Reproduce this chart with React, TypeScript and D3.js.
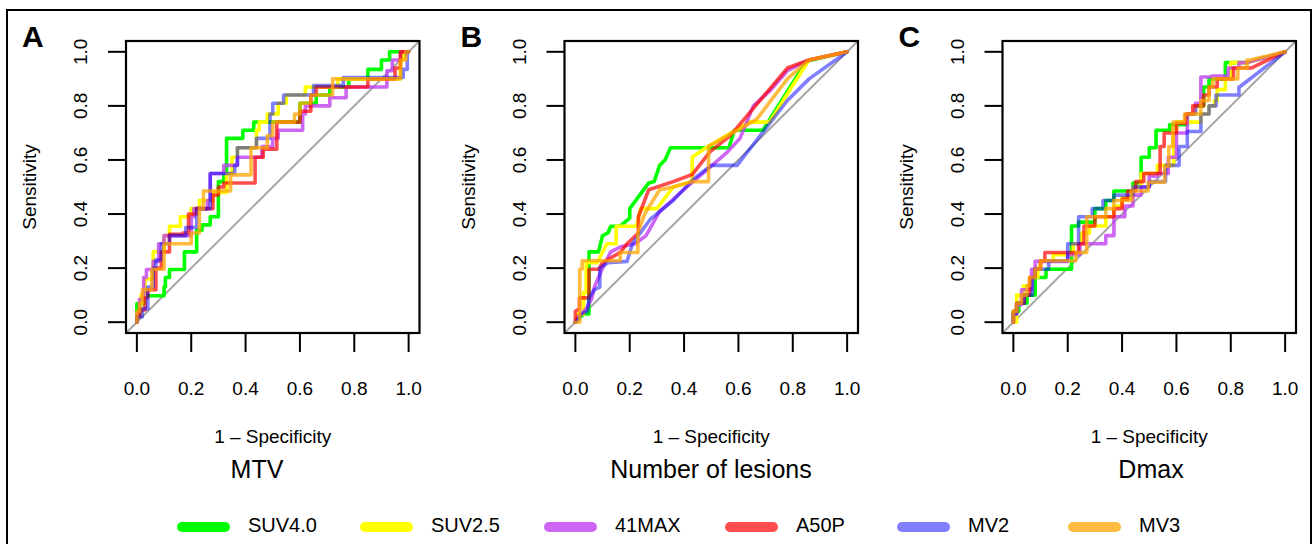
import * as d3 from "d3";

// series
const methods = ["SUV4.0", "SUV2.5", "41MAX", "A50P", "MV2", "MV3"];
const colors = ["#00ff00", "#ffff00", "#c040f0", "#ff0000", "#0000ff", "#ffa500"];
const alphas = [1, 1, 0.8, 0.7, 0.5, 0.75];

const panelLetters = ["A", "B", "C"];
const panelTitles = ["MTV", "Number of lesions", "Dmax"];
const ticks = [0, 0.2, 0.4, 0.6, 0.8, 1.0];

// MTV (steps: vertical at previous x, then across to this x)
const mtvSuv40 = [[0,0],[0.025,0.068],[0.1,0.098],[0.105,0.13],[0.12,0.165],[0.175,0.195],[0.22,0.26],[0.24,0.34],[0.27,0.36],[0.3,0.39],[0.32,0.52],[0.33,0.55],[0.39,0.68],[0.43,0.71],[0.49,0.74],[0.6,0.74],[0.66,0.81],[0.71,0.84],[0.78,0.87],[0.85,0.9],[0.9,0.935],[0.93,0.97],[1,1]];
const mtvSuv25 = [[0,0],[0.015,0.03],[0.03,0.1],[0.06,0.16],[0.1,0.26],[0.12,0.32],[0.16,0.355],[0.2,0.39],[0.23,0.42],[0.28,0.45],[0.33,0.48],[0.35,0.55],[0.37,0.61],[0.44,0.645],[0.45,0.71],[0.48,0.74],[0.52,0.77],[0.55,0.81],[0.62,0.84],[0.74,0.87],[0.97,0.9],[0.98,0.97],[1,1]];
const mtv41max = [[0,0],[0.01,0.03],[0.025,0.085],[0.035,0.165],[0.06,0.195],[0.08,0.225],[0.1,0.29],[0.2,0.32],[0.21,0.39],[0.26,0.42],[0.27,0.45],[0.32,0.55],[0.37,0.58],[0.46,0.61],[0.5,0.65],[0.52,0.68],[0.61,0.71],[0.62,0.77],[0.71,0.8],[0.77,0.83],[0.92,0.87],[0.94,0.93],[0.97,0.97],[1,1]];
const mtvA50p = [[0,0],[0.01,0.02],[0.03,0.045],[0.04,0.09],[0.07,0.12],[0.09,0.2],[0.12,0.26],[0.17,0.325],[0.19,0.33],[0.22,0.4],[0.28,0.42],[0.3,0.47],[0.32,0.5],[0.435,0.515],[0.465,0.61],[0.515,0.64],[0.6,0.74],[0.64,0.78],[0.66,0.84],[0.76,0.87],[0.85,0.87],[0.95,0.9],[0.97,0.94],[1,1]];
const mtvMv2 = [[0,0],[0.02,0.02],[0.04,0.05],[0.06,0.13],[0.07,0.2],[0.09,0.23],[0.12,0.29],[0.18,0.32],[0.22,0.35],[0.27,0.42],[0.36,0.55],[0.37,0.58],[0.44,0.645],[0.49,0.68],[0.5,0.77],[0.54,0.81],[0.65,0.84],[0.76,0.875],[0.98,0.905],[0.995,0.935],[1,1]];
const mtvMv3 = [[0,0],[0.01,0.04],[0.02,0.07],[0.055,0.12],[0.1,0.196],[0.2,0.29],[0.23,0.33],[0.245,0.42],[0.345,0.485],[0.42,0.545],[0.48,0.645],[0.5,0.69],[0.58,0.74],[0.6,0.77],[0.64,0.81],[0.72,0.84],[0.97,0.9],[0.99,0.97],[1,1]];

// Number of lesions (straight segments)
const lesSuv40 = [[0,0],[0.03,0.03],[0.05,0.03],[0.05,0.26],[0.085,0.26],[0.1,0.32],[0.12,0.33],[0.13,0.355],[0.165,0.355],[0.2,0.385],[0.2,0.42],[0.27,0.515],[0.29,0.52],[0.31,0.58],[0.33,0.6],[0.35,0.645],[0.565,0.645],[0.585,0.71],[0.69,0.71],[0.85,0.965],[1,1]];
const lesSuv25 = [[0,0],[0.01,0.03],[0.03,0.03],[0.03,0.11],[0.04,0.11],[0.04,0.22],[0.08,0.22],[0.116,0.29],[0.15,0.29],[0.15,0.355],[0.225,0.355],[0.24,0.42],[0.3,0.42],[0.36,0.5],[0.43,0.52],[0.43,0.61],[0.48,0.645],[0.64,0.74],[0.715,0.74],[0.79,0.86],[0.86,0.97],[1,1]];
const les41max = [[0,0],[0.01,0.02],[0.04,0.05],[0.06,0.086],[0.07,0.13],[0.1,0.2],[0.13,0.26],[0.17,0.28],[0.22,0.29],[0.26,0.32],[0.31,0.41],[0.355,0.45],[0.41,0.5],[0.48,0.56],[0.56,0.63],[0.606,0.68],[0.655,0.8],[0.72,0.86],[0.78,0.93],[0.86,0.97],[1,1]];
const lesA50p = [[0,0],[0,0.04],[0.015,0.05],[0.015,0.09],[0.05,0.09],[0.05,0.196],[0.086,0.196],[0.1,0.22],[0.165,0.258],[0.19,0.29],[0.232,0.33],[0.232,0.39],[0.27,0.49],[0.36,0.52],[0.43,0.546],[0.495,0.63],[0.57,0.69],[0.78,0.94],[0.86,0.97],[1,1]];
const lesMv2 = [[0,0],[0.01,0.01],[0.02,0.03],[0.045,0.04],[0.05,0.09],[0.07,0.12],[0.09,0.13],[0.09,0.2],[0.12,0.22],[0.19,0.225],[0.21,0.29],[0.275,0.38],[0.36,0.45],[0.435,0.53],[0.5,0.58],[0.595,0.58],[0.78,0.82],[0.86,0.9],[1,1]];
const lesMv3 = [[0,0],[0.016,0],[0.016,0.196],[0.025,0.196],[0.025,0.227],[0.165,0.227],[0.165,0.258],[0.23,0.258],[0.23,0.33],[0.255,0.4],[0.31,0.49],[0.36,0.5],[0.43,0.52],[0.49,0.52],[0.49,0.65],[0.667,0.75],[0.78,0.9],[0.86,0.97],[1,1]];

// Dmax (steps, last segment straight)
const dmaxSuv40 = [[0,0],[0.02,0.04],[0.05,0.07],[0.08,0.1],[0.12,0.165],[0.214,0.196],[0.24,0.356],[0.3,0.37],[0.34,0.42],[0.37,0.45],[0.44,0.485],[0.47,0.515],[0.5,0.61],[0.525,0.645],[0.575,0.71],[0.64,0.73],[0.67,0.77],[0.7,0.8],[0.72,0.87],[0.78,0.9],[0.86,0.96],[1,1]];
const dmaxSuv25 = [[0,0],[0.012,0],[0.037,0.1],[0.06,0.135],[0.09,0.165],[0.1,0.2],[0.147,0.227],[0.22,0.25],[0.25,0.29],[0.28,0.33],[0.34,0.356],[0.37,0.39],[0.4,0.43],[0.44,0.46],[0.47,0.5],[0.53,0.55],[0.59,0.58],[0.6,0.7],[0.69,0.74],[0.72,0.77],[0.74,0.8],[0.75,0.82],[0.78,0.86],[0.8,0.9],[0.86,0.96],[1,1]];
const dmax41max = [[0,0],[0.012,0.03],[0.03,0.065],[0.067,0.12],[0.08,0.196],[0.2,0.225],[0.245,0.25],[0.34,0.29],[0.37,0.32],[0.41,0.39],[0.44,0.43],[0.47,0.47],[0.5,0.5],[0.53,0.54],[0.57,0.55],[0.6,0.61],[0.64,0.7],[0.67,0.77],[0.69,0.81],[0.73,0.907],[0.79,0.91],[0.83,0.94],[0.86,0.96],[1,1]];
const dmaxA50p = [[0,0],[0.012,0.04],[0.04,0.07],[0.06,0.1],[0.08,0.165],[0.1,0.196],[0.116,0.227],[0.24,0.258],[0.26,0.29],[0.3,0.356],[0.37,0.39],[0.4,0.42],[0.42,0.455],[0.45,0.485],[0.48,0.52],[0.54,0.55],[0.555,0.65],[0.6,0.7],[0.634,0.736],[0.66,0.77],[0.7,0.8],[0.72,0.84],[0.75,0.87],[0.81,0.9],[0.875,0.94],[1,1]];
const dmaxMv2 = [[0,0],[0.012,0.03],[0.04,0.07],[0.07,0.1],[0.08,0.165],[0.13,0.196],[0.2,0.227],[0.24,0.29],[0.29,0.39],[0.33,0.42],[0.37,0.45],[0.44,0.47],[0.5,0.5],[0.56,0.52],[0.61,0.58],[0.64,0.65],[0.69,0.705],[0.72,0.77],[0.746,0.8],[0.83,0.84],[0.832,0.87],[1,1]];
const dmaxMv3 = [[0,0],[0.012,0.04],[0.03,0.07],[0.05,0.1],[0.06,0.135],[0.08,0.165],[0.1,0.196],[0.23,0.227],[0.27,0.258],[0.34,0.39],[0.37,0.42],[0.435,0.45],[0.496,0.485],[0.557,0.518],[0.572,0.577],[0.587,0.65],[0.63,0.74],[0.69,0.77],[0.72,0.82],[0.734,0.87],[0.826,0.9],[0.86,0.94],[0.87,0.97],[1,1]];

const panels = [
  {mode: "step", series: [mtvSuv40, mtvSuv25, mtv41max, mtvA50p, mtvMv2, mtvMv3]},
  {mode: "line", series: [lesSuv40, lesSuv25, les41max, lesA50p, lesMv2, lesMv3]},
  {mode: "tail", series: [dmaxSuv40, dmaxSuv25, dmax41max, dmaxA50p, dmaxMv2, dmaxMv3]},
];

// turn step corners into a polyline
function expand(pts: number[][], mode: string) {
  if (mode === "line") return pts;
  const out = [pts[0]];
  const n = pts.length;
  for (let i = 1; i < n; i++) {
    if (mode === "tail" && i === n - 1) { out.push(pts[i]); continue; }
    out.push([pts[i - 1][0], pts[i][1]]);
    out.push(pts[i]);
  }
  return out;
}

const font = "'Liberation Sans', Arial, Helvetica, sans-serif";
const boxLeft = [126, 564.5, 1002.5];
const boxW = 293.5, boxTop = 41, boxH = 292;
const titleX = [257, 711, 1151];
const legendX = [177, 360, 544, 725, 897, 1068];

function Panel({i}: {i: number}) {
  const left = boxLeft[i];
  const x = d3.scaleLinear().domain([-0.04, 1.04]).range([left, left + boxW]);
  const y = d3.scaleLinear().domain([-0.04, 1.04]).range([boxTop + boxH, boxTop]);
  const line = d3.line<number[]>().x(d => x(d[0])).y(d => y(d[1]));
  const p = panels[i];
  return (
    <g>
      <text x={left - 104} y={47} fontSize={30} fontWeight="bold" fontFamily={font}>{panelLetters[i]}</text>
      <line x1={x(-0.04)} y1={y(-0.04)} x2={x(1.04)} y2={y(1.04)} stroke="#a6a6a6" strokeWidth={2} />
      {p.series.map((s, k) => (
        <path key={k} d={line(expand(s, p.mode)) || ""} fill="none" stroke={colors[k]}
          strokeOpacity={alphas[k]} strokeWidth={3.6} strokeLinejoin="round" strokeLinecap="round" />
      ))}
      <rect x={left} y={boxTop} width={boxW} height={boxH} fill="none" stroke="#000" strokeWidth={2.2} />
      {ticks.map(t => (
        <g key={"y" + t}>
          <line x1={left - 18} x2={left} y1={y(t)} y2={y(t)} stroke="#000" strokeWidth={2} />
          <text transform={`translate(${left - 39},${y(t)}) rotate(-90)`} textAnchor="middle"
            fontSize={19} fontFamily={font}>{t.toFixed(1)}</text>
        </g>
      ))}
      {ticks.map(t => (
        <g key={"x" + t}>
          <line x1={x(t)} x2={x(t)} y1={boxTop + boxH} y2={boxTop + boxH + 19} stroke="#000" strokeWidth={2} />
          <text x={x(t)} y={395} textAnchor="middle" fontSize={19} fontFamily={font}>{t.toFixed(1)}</text>
        </g>
      ))}
      <text transform={`translate(${left - 90},${boxTop + boxH / 2}) rotate(-90)`} textAnchor="middle"
        fontSize={19} fontFamily={font}>Sensitivity</text>
      <text x={left + boxW / 2} y={443} textAnchor="middle" fontSize={19} fontFamily={font}>1 – Specificity</text>
      <text x={titleX[i]} y={478} textAnchor="middle" fontSize={25} fontFamily={font}>{panelTitles[i]}</text>
    </g>
  );
}

export default function App() {
  return (
    <svg width={1313} height={544} style={{position: "absolute", left: 0, top: 0, background: "#fff"}}>
      <rect x={7} y={10} width={1304} height={560} fill="#fff" stroke="#000" strokeWidth={2} />
      {panels.map((_, i) => <Panel key={i} i={i} />)}
      {methods.map((m, k) => (
        <g key={m}>
          <line x1={legendX[k] + 5} x2={legendX[k] + 48} y1={527} y2={527} stroke={colors[k]}
            strokeOpacity={alphas[k]} strokeWidth={10} strokeLinecap="round" />
          <text x={legendX[k] + 71} y={532} fontSize={20} fontFamily={font}>{m}</text>
        </g>
      ))}
    </svg>
  );
}
